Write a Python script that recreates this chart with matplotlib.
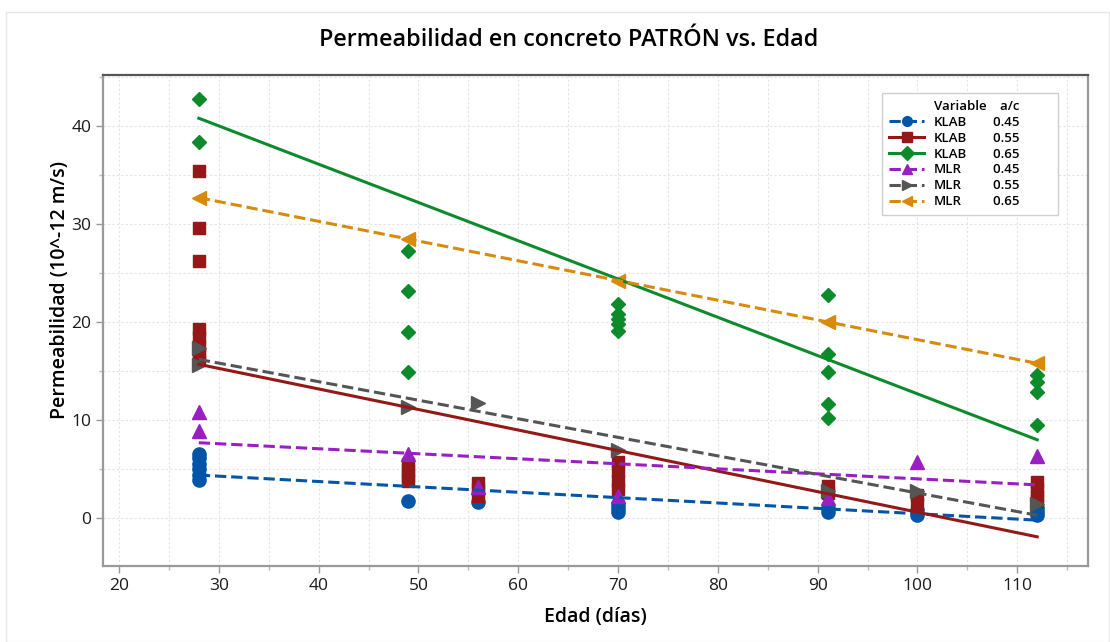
import matplotlib
matplotlib.use("Agg")
import matplotlib.pyplot as plt
from matplotlib.lines import Line2D
from matplotlib.patches import Rectangle
from matplotlib.ticker import MultipleLocator

plt.rcParams['font.family'] = ['Open Sans', 'DejaVu Sans']

# KLAB measurements (edad in days, permeability in 10^-12 m/s)
klab045_x = [28, 28, 28, 28, 28, 28, 49, 56, 70, 70, 70, 91, 91, 100, 100, 112, 112, 112]
klab045_y = [6.6, 6.1, 5.5, 5.0, 4.4, 3.9, 1.8, 1.7, 1.4, 1.0, 0.6, 1.0, 0.6, 0.8, 0.3, 1.0, 0.6, 0.3]

klab055_x = [28, 28, 28, 28, 28, 28, 28, 28, 49, 49, 49, 49, 56, 56, 56,
             70, 70, 70, 70, 91, 91, 100, 100, 112, 112, 112, 112]
klab055_y = [35.4, 29.6, 26.2, 19.3, 18.5, 17.6, 16.8, 16.1, 5.5, 4.9, 4.3, 3.8, 3.6, 3.0, 2.3,
             5.7, 4.8, 3.8, 3.0, 3.3, 2.6, 2.4, 1.5, 3.7, 3.0, 2.3, 1.8]

klab065_x = [28, 28, 49, 49, 49, 49, 70, 70, 70, 70, 70, 91, 91, 91, 91, 91, 112, 112, 112, 112]
klab065_y = [42.8, 38.4, 27.3, 23.2, 19.0, 14.9, 21.9, 20.8, 20.3, 19.8, 19.1,
             22.8, 16.8, 14.9, 11.7, 10.2, 14.6, 13.9, 12.9, 9.5]

# MLR model values
mlr045_x = [28, 28, 49, 56, 70, 91, 100, 112]
mlr045_y = [10.8, 8.9, 6.6, 3.2, 2.3, 2.1, 5.7, 6.3]

mlr055_x = [28, 28, 49, 56, 70, 91, 100, 112]
mlr055_y = [17.4, 15.6, 11.3, 11.8, 7.0, 2.8, 2.8, 1.5]

mlr065_x = [28, 49, 70, 91, 112]
mlr065_y = [32.7, 28.5, 24.2, 20.0, 15.8]

# regression lines, value at first and last age
fit_x = [28, 112]
klab045_fit = [4.4, -0.2]
klab055_fit = [15.7, -1.9]
klab065_fit = [40.8, 8.0]
mlr045_fit = [7.7, 3.4]
mlr055_fit = [16.2, 0.3]
mlr065_fit = [32.7, 15.8]

variables = ['KLAB', 'KLAB', 'KLAB', 'MLR', 'MLR', 'MLR']
ac_labels = ['0.45', '0.55', '0.65', '0.45', '0.55', '0.65']

series = [
    (klab045_x, klab045_y, klab045_fit, '#0455a8', 'o', 9.5, '--'),
    (klab055_x, klab055_y, klab055_fit, '#931919', 's', 8.5, '-'),
    (klab065_x, klab065_y, klab065_fit, '#0c8a2c', 'D', 7.5, '-'),
    (mlr045_x, mlr045_y, mlr045_fit, '#9a1fc2', '^', 9.5, '--'),
    (mlr055_x, mlr055_y, mlr055_fit, '#555555', '>', 9.5, '--'),
    (mlr065_x, mlr065_y, mlr065_fit, '#d98a0b', '<', 9.5, '--'),
]

fig = plt.figure(figsize=(11.1, 6.42), dpi=100)
fig.patches.append(Rectangle((0.005, 0.0), 0.994, 0.982, transform=fig.transFigure,
                             fill=False, edgecolor='#e8e8e8', lw=1))
ax = fig.add_axes([0.0928, 0.118, 0.8875, 0.765])

blank = Line2D([], [], linestyle='none')
handles = [blank]
for xs, ys, fit, c, m, ms, ls in series:
    ax.plot(xs, ys, linestyle='none', marker=m, ms=ms, color=c, mec=c, zorder=3)
for xs, ys, fit, c, m, ms, ls in series:
    ax.plot(fit_x, fit, linestyle=ls, color=c, lw=2.2, zorder=4)
    handles.append(Line2D([], [], linestyle=ls, color=c, lw=2.2, marker=m, ms=7, mec=c))

ax.set_xlim(18.4, 117.1)
ax.set_ylim(-4.9, 45.2)
ax.xaxis.set_major_locator(MultipleLocator(10))
ax.xaxis.set_minor_locator(MultipleLocator(5))
ax.yaxis.set_major_locator(MultipleLocator(10))
ax.yaxis.set_minor_locator(MultipleLocator(5))
ax.grid(which='both', color='#e4e4e4', lw=0.8, linestyle=(0, (2, 2)))
ax.set_axisbelow(True)
ax.tick_params(which='major', length=5, width=1, color='#999999', labelsize=12.5, labelcolor='#1a1a1a')
ax.tick_params(which='minor', length=3, width=1, color='#bbbbbb')
for side in ['left', 'right', 'bottom']:
    ax.spines[side].set_color('#9a9a9a')
    ax.spines[side].set_linewidth(1.6)
ax.spines['top'].set_color('#555555')
ax.spines['top'].set_linewidth(1.6)

ax.set_xlabel('Edad (días)', fontsize=14, fontweight='semibold')
ax.set_ylabel('Permeabilidad (10^-12 m/s)', fontsize=14, fontweight='semibold')
ax.xaxis.set_label_coords(0.5, -0.083)
ax.yaxis.set_label_coords(-0.034, 0.562)
fig.text(0.512, 0.938, 'Permeabilidad en concreto PATRÓN vs. Edad', ha='center', va='center',
         fontsize=16.8, fontweight='semibold')

# two-column legend: names with line handles, then a/c values with empty handles
tail = ' ' * 9
labels = ['Variable'] + variables + ['  a/c' + tail] + [a + tail for a in ac_labels]
handles = handles + [blank] * 7
leg = ax.legend(handles, labels, loc='upper right', bbox_to_anchor=(0.9695, 0.963), ncol=2,
                labelspacing=0.22, handlelength=2.7, handletextpad=0.7, columnspacing=-2.85,
                borderpad=0.5, borderaxespad=0, fancybox=False, framealpha=1, edgecolor='#cfcfcf',
                prop={'weight': 'semibold', 'size': 9.5})
leg.get_frame().set_linewidth(1)

fig.savefig('out.png', dpi=100)
